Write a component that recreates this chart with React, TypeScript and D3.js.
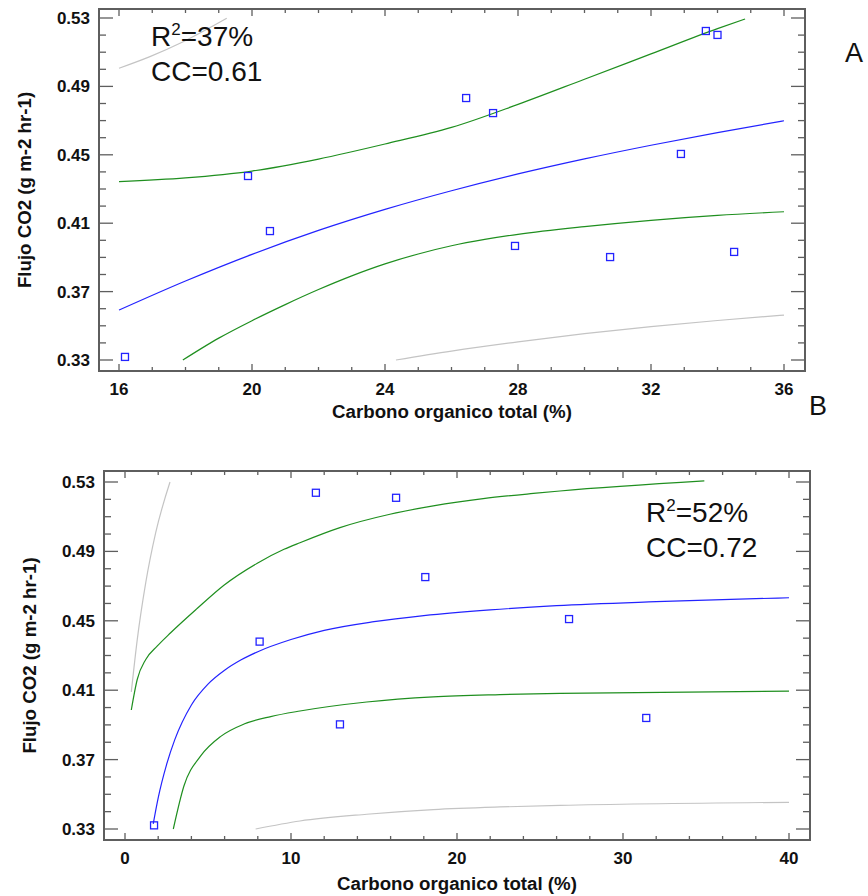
import React from "react";
import * as d3 from "d3";

// ---------- Panel A data ----------
const ptsAX = [16.18, 19.88, 20.54, 26.44, 27.25, 27.91, 30.77, 32.9, 33.65, 34.0, 34.5];
const ptsAY = [0.3318, 0.4376, 0.4054, 0.4832, 0.4744, 0.3967, 0.3902, 0.4505, 0.5224, 0.5201, 0.3932];

const fitAX = [16, 18, 20, 22, 24, 26, 28, 30, 32, 34, 36];
const fitAY = [0.3592, 0.3762, 0.3918, 0.4058, 0.4181, 0.429, 0.4388, 0.4476, 0.4556, 0.463, 0.4699];

const confUpAX = [16, 18, 20, 22, 24, 26, 28, 30, 32, 34, 34.83];
const confUpAY = [0.4343, 0.4365, 0.4405, 0.4475, 0.4563, 0.466, 0.4795, 0.4942, 0.509, 0.5238, 0.5294];

const confLoAX = [17.92, 19, 20, 21, 22, 23, 24, 25, 26, 27, 28, 30, 32, 34, 36];
const confLoAY = [0.33, 0.3428, 0.353, 0.3624, 0.3712, 0.3792, 0.3862, 0.392, 0.3968, 0.4005, 0.4035, 0.408, 0.4117, 0.4146, 0.4167];

const predUpAX = [16, 16.93, 17.93, 19.24];
const predUpAY = [0.5006, 0.5074, 0.5161, 0.5298];

const predLoAX = [24.33, 26, 28, 30, 32, 34, 36];
const predLoAY = [0.33, 0.3352, 0.3406, 0.3454, 0.3495, 0.3531, 0.3563];

// ---------- Panel B data ----------
const ptsBX = [1.75, 8.11, 11.5, 16.33, 18.09, 12.95, 26.75, 31.4];
const ptsBY = [0.3321, 0.438, 0.5238, 0.5209, 0.4752, 0.3903, 0.451, 0.394];

const fitBX = [1.7, 2.0, 2.5, 3.0, 4.0, 5.0, 6.0, 7.0, 8.0, 10.0, 12.0, 15.0, 18.0, 22.0, 26.0, 32.0, 40.0];
const fitBY = [0.333, 0.348, 0.367, 0.3815, 0.4015, 0.4135, 0.4215, 0.4275, 0.4322, 0.4392, 0.4445, 0.4495, 0.453, 0.4563, 0.4587, 0.461, 0.4633];

const confUpBX = [0.38, 0.74, 1.25, 1.95, 2.75, 4.36, 5.96, 7.97, 9.58, 10.54, 12.95, 15.96, 18.57, 21.58, 24.6, 26.2, 34.9];
const confUpBY = [0.3986, 0.4163, 0.4277, 0.4355, 0.4431, 0.4572, 0.4705, 0.4832, 0.4912, 0.495, 0.5037, 0.5114, 0.5162, 0.5204, 0.5234, 0.5248, 0.5306];

const confLoBX = [2.91, 3.55, 4.56, 5.77, 7.17, 8.78, 10.54, 14.56, 18.57, 22.59, 26.2, 40];
const confLoBY = [0.33, 0.3548, 0.3721, 0.3834, 0.3905, 0.3948, 0.398, 0.4032, 0.4062, 0.4075, 0.4082, 0.4095];

const predUpBX = [0.38, 0.74, 1.25, 1.85, 2.71];
const predUpBY = [0.409, 0.4393, 0.472, 0.5008, 0.53];

const predLoBX = [7.87, 10.54, 14.56, 18.57, 22.59, 26.2, 40];
const predLoBY = [0.33, 0.3346, 0.3385, 0.3412, 0.3427, 0.3436, 0.3454];

// ---------- Axis labels ----------
const yTickLabels = ["0.33", "0.37", "0.41", "0.45", "0.49", "0.53"];
const xTickLabelsA = ["16", "20", "24", "28", "32", "36"];
const xTickLabelsB = ["0", "10", "20", "30", "40"];
const xTitle = "Carbono organico total (%)";
const yTitle = "Flujo CO2 (g m-2 hr-1)";

const BLUE = "#2323ff";
const GREEN = "#1f8f1f";
const GRAY = "#c4c4c4";
const FRAME = "#5e5e5e";
const FONT = "Arial, 'Liberation Sans', sans-serif";

type PanelProps = {
  frame: { x0: number; x1: number; y0: number; y1: number };
  xDom: [number, number];
  xRange: [number, number];
  yRange: [number, number];
  xStep: number;
  xMajorEvery: number;
  xLabels: string[];
  pts: [number[], number[]];
  series: { xs: number[]; ys: number[]; color: string }[];
  xLabelBaseline: number;
  xTitleBaseline: number;
  yTitleX: number;
  stats: { r2: string; cc: string; x: number; y: number };
};

function Panel(p: PanelProps) {
  const x = d3.scaleLinear().domain(p.xDom).range(p.xRange);
  const y = d3.scaleLinear().domain([0.33, 0.53]).range(p.yRange);
  const { x0, x1, y0, y1 } = p.frame;
  const yTicks = d3.range(0, 21).map((i) => 0.33 + i * 0.01);
  const nx = Math.round((p.xDom[1] - p.xDom[0]) / p.xStep);
  const xTicks = d3.range(0, nx + 1).map((i) => p.xDom[0] + i * p.xStep);
  const line = d3
    .line<[number, number]>()
    .x((d) => x(d[0]))
    .y((d) => y(d[1]))
    .curve(d3.curveMonotoneX);
  const cx = (x0 + x1) / 2;
  const cy = (y0 + y1) / 2;
  return (
    <g>
      {p.series.map((s, i) => (
        <path
          key={i}
          d={line(s.xs.map((v, j) => [v, s.ys[j]] as [number, number])) || ""}
          fill="none"
          stroke={s.color}
          strokeWidth={1.2}
        />
      ))}
      {p.pts[0].map((v, i) => (
        <rect
          key={i}
          x={x(v) - 3.5}
          y={y(p.pts[1][i]) - 3.5}
          width={7}
          height={7}
          fill="none"
          stroke={BLUE}
          strokeWidth={1.3}
        />
      ))}
      {yTicks.map((t, i) => {
        const len = i % 4 === 0 ? 14 : 7;
        return (
          <g key={"y" + i}>
            <line x1={x0} x2={x0 + len} y1={y(t)} y2={y(t)} stroke={FRAME} strokeWidth={1.3} />
            <line x1={x1} x2={x1 - len} y1={y(t)} y2={y(t)} stroke={FRAME} strokeWidth={1.3} />
          </g>
        );
      })}
      {xTicks.map((t, i) => {
        const len = i % p.xMajorEvery === 0 ? 7 : 4;
        return (
          <g key={"x" + i}>
            <line x1={x(t)} x2={x(t)} y1={y1} y2={y1 - len} stroke={FRAME} strokeWidth={1.3} />
            <line x1={x(t)} x2={x(t)} y1={y0} y2={y0 + len} stroke={FRAME} strokeWidth={1.3} />
          </g>
        );
      })}
      <rect x={x0} y={y0} width={x1 - x0} height={y1 - y0} fill="none" stroke={FRAME} strokeWidth={2} />
      {yTickLabels.map((l) => (
        <text
          key={l}
          x={x0 - 9}
          y={y(+l) + 6}
          textAnchor="end"
          fontFamily={FONT}
          fontWeight="bold"
          fontSize={17}
          fill="#111"
        >
          {l}
        </text>
      ))}
      {p.xLabels.map((l) => (
        <text
          key={l}
          x={x(+l)}
          y={p.xLabelBaseline}
          textAnchor="middle"
          fontFamily={FONT}
          fontWeight="bold"
          fontSize={17}
          fill="#111"
        >
          {l}
        </text>
      ))}
      <text
        x={cx}
        y={p.xTitleBaseline}
        textAnchor="middle"
        fontFamily={FONT}
        fontWeight="bold"
        fontSize={18.7}
        fill="#111"
      >
        {xTitle}
      </text>
      <text
        transform={`translate(${p.yTitleX},${cy}) rotate(-90)`}
        textAnchor="middle"
        fontFamily={FONT}
        fontWeight="bold"
        fontSize={18.7}
        fill="#111"
      >
        {yTitle}
      </text>
      <text x={p.stats.x} y={p.stats.y} fontFamily={FONT} fontSize={28} fill="#111">
        R<tspan fontSize={17} dy={-11}>2</tspan>
        <tspan dy={11}>={p.stats.r2}</tspan>
      </text>
      <text x={p.stats.x} y={p.stats.y + 35} fontFamily={FONT} fontSize={28} fill="#111">
        CC={p.stats.cc}
      </text>
    </g>
  );
}

export default function App() {
  return (
    <svg
      width={868}
      height={896}
      style={{ position: "absolute", left: 0, top: 0, background: "#fff" }}
    >
      <rect x={0} y={0} width={868} height={896} fill="#fff" />
      <Panel
        frame={{ x0: 99, x1: 805, y0: 9, y1: 371 }}
        xDom={[16, 36]}
        xRange={[119, 784]}
        yRange={[360, 18]}
        xStep={1}
        xMajorEvery={4}
        xLabels={xTickLabelsA}
        pts={[ptsAX, ptsAY]}
        series={[
          { xs: predUpAX, ys: predUpAY, color: GRAY },
          { xs: predLoAX, ys: predLoAY, color: GRAY },
          { xs: confUpAX, ys: confUpAY, color: GREEN },
          { xs: confLoAX, ys: confLoAY, color: GREEN },
          { xs: fitAX, ys: fitAY, color: BLUE },
        ]}
        xLabelBaseline={395}
        xTitleBaseline={418}
        yTitleX={31}
        stats={{ r2: "37%", cc: "0.61", x: 151, y: 46 }}
      />
      <Panel
        frame={{ x0: 104, x1: 810, y0: 471, y1: 840 }}
        xDom={[0, 40]}
        xRange={[125, 789]}
        yRange={[829, 482]}
        xStep={2}
        xMajorEvery={5}
        xLabels={xTickLabelsB}
        pts={[ptsBX, ptsBY]}
        series={[
          { xs: predUpBX, ys: predUpBY, color: GRAY },
          { xs: predLoBX, ys: predLoBY, color: GRAY },
          { xs: confUpBX, ys: confUpBY, color: GREEN },
          { xs: confLoBX, ys: confLoBY, color: GREEN },
          { xs: fitBX, ys: fitBY, color: BLUE },
        ]}
        xLabelBaseline={864}
        xTitleBaseline={890}
        yTitleX={36}
        stats={{ r2: "52%", cc: "0.72", x: 646, y: 522 }}
      />
      <text x={845} y={62} fontFamily={FONT} fontSize={27} fill="#111">A</text>
      <text x={809} y={415} fontFamily={FONT} fontSize={27} fill="#111">B</text>
    </svg>
  );
}
